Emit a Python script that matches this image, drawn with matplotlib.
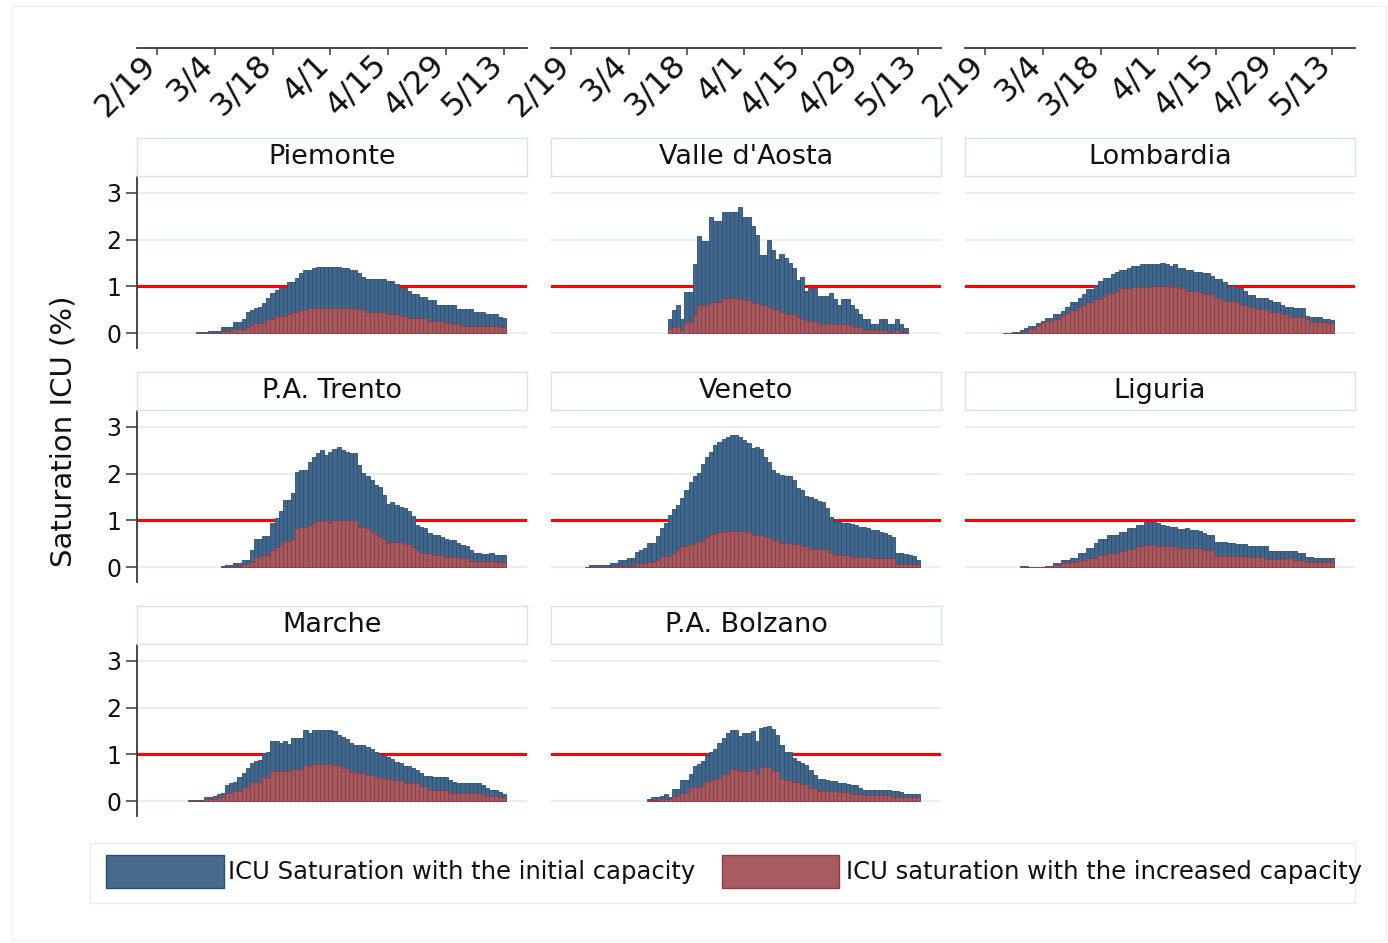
import numpy as np
import matplotlib
matplotlib.use('Agg')
import matplotlib.pyplot as plt
from matplotlib.patches import Rectangle

plt.rcParams['font.family'] = ['DejaVu Sans']

# days counted from 2/19/2020
tick_days = [0, 14, 28, 42, 56, 70, 84]
tick_labels = ['2/19', '3/4', '3/18', '4/1', '4/15', '4/29', '5/13']

regions = ['Piemonte', "Valle d'Aosta", 'Lombardia', 'P.A. Trento', 'Veneto',
           'Liguria', 'Marche', 'P.A. Bolzano']
start_day = [10, 24, 5, 16, 4, 9, 8, 19]

# ICU saturation with the initial capacity
piemonte_init = [0.02, 0.02, 0.02, 0.04, 0.04, 0.04, 0.13, 0.13, 0.13, 0.24,
                 0.24, 0.31, 0.45, 0.49, 0.54, 0.56, 0.64, 0.74, 0.85, 0.92,
                 0.96, 0.96, 1.10, 1.10, 1.17, 1.28, 1.35, 1.35, 1.39, 1.42,
                 1.42, 1.42, 1.42, 1.42, 1.42, 1.39, 1.39, 1.35, 1.35, 1.28,
                 1.21, 1.16, 1.16, 1.16, 1.16, 1.16, 1.11, 1.11, 1.04, 0.96,
                 0.96, 0.89, 0.83, 0.83, 0.78, 0.78, 0.71, 0.71, 0.61, 0.61,
                 0.59, 0.59, 0.59, 0.51, 0.51, 0.51, 0.51, 0.46, 0.46, 0.46,
                 0.40, 0.40, 0.40, 0.34, 0.32]
valle_init = [0.31, 0.49, 0.60, 0.31, 0.87, 0.87, 1.48, 2.08, 1.98, 1.98,
              2.49, 2.39, 2.39, 2.59, 2.59, 2.59, 2.59, 2.69, 2.49, 2.49,
              2.29, 2.10, 1.67, 1.67, 1.99, 1.78, 1.58, 1.69, 1.60, 1.49,
              1.39, 1.14, 1.19, 0.91, 0.96, 0.96, 0.80, 0.80, 0.80, 0.86,
              0.72, 0.60, 0.72, 0.72, 0.60, 0.51, 0.41, 0.31, 0.31, 0.19,
              0.19, 0.31, 0.31, 0.19, 0.19, 0.31, 0.19, 0.10]
lombardia_init = [0.01, 0.01, 0.03, 0.03, 0.06, 0.10, 0.15, 0.15, 0.21, 0.26,
                  0.33, 0.33, 0.41, 0.41, 0.47, 0.56, 0.66, 0.66, 0.76, 0.83,
                  0.94, 0.94, 1.01, 1.12, 1.17, 1.17, 1.26, 1.31, 1.36, 1.36,
                  1.40, 1.44, 1.44, 1.48, 1.48, 1.48, 1.48, 1.48, 1.51, 1.48,
                  1.44, 1.48, 1.40, 1.40, 1.36, 1.36, 1.31, 1.31, 1.28, 1.28,
                  1.23, 1.16, 1.16, 1.09, 1.01, 1.01, 0.96, 0.96, 0.89, 0.81,
                  0.81, 0.76, 0.76, 0.76, 0.71, 0.66, 0.66, 0.60, 0.56, 0.56,
                  0.54, 0.54, 0.54, 0.37, 0.35, 0.35, 0.35, 0.31, 0.31, 0.28]
trento_init = [0.02, 0.05, 0.05, 0.09, 0.09, 0.16, 0.16, 0.36, 0.60, 0.60,
               0.66, 0.66, 0.94, 1.06, 1.21, 1.44, 1.44, 1.58, 2.04, 2.08,
               2.08, 2.24, 2.36, 2.45, 2.51, 2.40, 2.47, 2.52, 2.56, 2.51,
               2.47, 2.44, 2.44, 2.19, 2.01, 1.94, 1.86, 1.76, 1.72, 1.54,
               1.36, 1.40, 1.33, 1.29, 1.26, 1.20, 1.09, 0.90, 0.86, 0.83,
               0.72, 0.69, 0.69, 0.64, 0.60, 0.58, 0.58, 0.52, 0.47, 0.44,
               0.36, 0.31, 0.31, 0.28, 0.28, 0.31, 0.26, 0.26, 0.26]
veneto_init = [0.01, 0.04, 0.04, 0.04, 0.04, 0.04, 0.08, 0.08, 0.15, 0.15,
               0.19, 0.19, 0.33, 0.36, 0.40, 0.52, 0.52, 0.66, 0.84, 0.95,
               1.11, 1.24, 1.33, 1.47, 1.65, 1.83, 1.94, 2.02, 2.21, 2.36,
               2.47, 2.61, 2.67, 2.74, 2.79, 2.83, 2.83, 2.79, 2.72, 2.66,
               2.54, 2.58, 2.52, 2.35, 2.24, 2.08, 2.02, 1.97, 1.94, 1.94,
               1.86, 1.69, 1.64, 1.51, 1.50, 1.45, 1.42, 1.40, 1.26, 1.08,
               0.99, 0.99, 0.95, 0.95, 0.92, 0.90, 0.86, 0.86, 0.83, 0.79,
               0.79, 0.76, 0.72, 0.69, 0.65, 0.29, 0.29, 0.27, 0.26, 0.24, 0.16]
liguria_init = [0.02, 0.02, 0.01, 0.01, 0.01, 0.01, 0.03, 0.03, 0.08, 0.08,
                0.15, 0.15, 0.20, 0.20, 0.31, 0.31, 0.40, 0.40, 0.51, 0.61,
                0.61, 0.69, 0.69, 0.69, 0.76, 0.76, 0.83, 0.83, 0.90, 0.90,
                0.96, 0.96, 0.96, 0.94, 0.90, 0.88, 0.85, 0.85, 0.81, 0.81,
                0.83, 0.79, 0.79, 0.77, 0.72, 0.69, 0.69, 0.54, 0.54, 0.54,
                0.52, 0.52, 0.49, 0.49, 0.49, 0.45, 0.44, 0.44, 0.44, 0.44,
                0.35, 0.35, 0.35, 0.35, 0.35, 0.35, 0.35, 0.31, 0.31, 0.22,
                0.22, 0.19, 0.19, 0.19, 0.19, 0.19]
marche_init = [0.02, 0.02, 0.02, 0.02, 0.08, 0.08, 0.11, 0.15, 0.18, 0.34,
               0.39, 0.41, 0.51, 0.61, 0.70, 0.81, 0.86, 0.88, 1.02, 1.06,
               1.29, 1.29, 1.25, 1.29, 1.22, 1.34, 1.34, 1.34, 1.52, 1.45,
               1.52, 1.52, 1.52, 1.52, 1.52, 1.49, 1.41, 1.38, 1.32, 1.25,
               1.20, 1.20, 1.20, 1.16, 1.11, 1.06, 1.01, 0.99, 0.94, 0.89,
               0.84, 0.81, 0.74, 0.74, 0.70, 0.66, 0.59, 0.54, 0.54, 0.51,
               0.51, 0.51, 0.51, 0.45, 0.41, 0.39, 0.39, 0.39, 0.39, 0.39,
               0.39, 0.34, 0.27, 0.24, 0.24, 0.20, 0.15]
bolzano_init = [0.04, 0.08, 0.08, 0.10, 0.15, 0.08, 0.26, 0.26, 0.46, 0.46,
                0.58, 0.76, 0.79, 0.85, 0.98, 1.06, 1.12, 1.24, 1.36, 1.46,
                1.53, 1.53, 1.39, 1.46, 1.46, 1.49, 1.28, 1.56, 1.58, 1.60,
                1.55, 1.42, 1.19, 1.06, 1.06, 0.92, 0.86, 0.81, 0.78, 0.67,
                0.56, 0.48, 0.48, 0.46, 0.42, 0.42, 0.39, 0.39, 0.36, 0.34,
                0.34, 0.29, 0.24, 0.24, 0.24, 0.24, 0.24, 0.24, 0.24, 0.21,
                0.21, 0.19, 0.15, 0.15, 0.15, 0.15]

# ICU saturation with the increased capacity
piemonte_incr = [0.00, 0.00, 0.01, 0.01, 0.01, 0.01, 0.04, 0.04, 0.04, 0.09,
                 0.09, 0.09, 0.12, 0.17, 0.21, 0.21, 0.21, 0.30, 0.30, 0.36,
                 0.36, 0.36, 0.40, 0.44, 0.44, 0.49, 0.49, 0.54, 0.54, 0.54,
                 0.54, 0.54, 0.54, 0.54, 0.54, 0.54, 0.54, 0.54, 0.51, 0.51,
                 0.51, 0.46, 0.46, 0.46, 0.46, 0.46, 0.40, 0.40, 0.40, 0.36,
                 0.36, 0.33, 0.33, 0.33, 0.33, 0.33, 0.26, 0.26, 0.26, 0.26,
                 0.21, 0.21, 0.19, 0.19, 0.16, 0.16, 0.16, 0.16, 0.16, 0.16,
                 0.16, 0.16, 0.16, 0.14, 0.14]
valle_incr = [0.08, 0.14, 0.16, 0.06, 0.24, 0.24, 0.39, 0.60, 0.60, 0.60,
              0.67, 0.67, 0.67, 0.74, 0.74, 0.74, 0.74, 0.76, 0.71, 0.71,
              0.64, 0.64, 0.60, 0.60, 0.56, 0.51, 0.51, 0.46, 0.40, 0.40,
              0.40, 0.35, 0.31, 0.26, 0.26, 0.26, 0.19, 0.19, 0.19, 0.22,
              0.19, 0.19, 0.19, 0.19, 0.16, 0.14, 0.14, 0.06, 0.06, 0.06,
              0.06, 0.07, 0.07, 0.03, 0.03, 0.06, 0.02, 0.02]
lombardia_incr = [0.00, 0.00, 0.00, 0.00, 0.00, 0.00, 0.09, 0.09, 0.16, 0.21,
                  0.26, 0.26, 0.31, 0.31, 0.36, 0.42, 0.49, 0.49, 0.56, 0.61,
                  0.67, 0.67, 0.73, 0.73, 0.79, 0.85, 0.85, 0.90, 0.96, 0.96,
                  0.96, 0.98, 0.98, 0.98, 0.98, 0.98, 1.01, 1.01, 1.01, 1.01,
                  0.98, 1.01, 0.96, 0.96, 0.90, 0.90, 0.90, 0.87, 0.83, 0.83,
                  0.83, 0.74, 0.74, 0.69, 0.69, 0.69, 0.66, 0.60, 0.60, 0.55,
                  0.55, 0.51, 0.51, 0.51, 0.46, 0.46, 0.46, 0.40, 0.40, 0.35,
                  0.35, 0.35, 0.35, 0.31, 0.24, 0.24, 0.24, 0.24, 0.21, 0.21]
trento_incr = [0.01, 0.01, 0.01, 0.03, 0.03, 0.06, 0.06, 0.11, 0.22, 0.22,
               0.25, 0.25, 0.36, 0.42, 0.47, 0.56, 0.56, 0.60, 0.83, 0.85,
               0.85, 0.90, 0.94, 0.99, 0.99, 1.01, 0.94, 1.01, 1.01, 1.01,
               1.01, 1.01, 1.01, 0.86, 0.86, 0.83, 0.74, 0.71, 0.65, 0.61,
               0.52, 0.53, 0.53, 0.53, 0.49, 0.49, 0.42, 0.36, 0.31, 0.31,
               0.31, 0.26, 0.26, 0.26, 0.22, 0.22, 0.22, 0.22, 0.19, 0.19,
               0.14, 0.14, 0.14, 0.14, 0.14, 0.14, 0.10, 0.10, 0.10]
veneto_incr = [0.00, 0.00, 0.00, 0.00, 0.00, 0.00, 0.00, 0.03, 0.03, 0.03,
               0.03, 0.03, 0.08, 0.08, 0.08, 0.11, 0.11, 0.15, 0.24, 0.24,
               0.24, 0.31, 0.36, 0.44, 0.44, 0.49, 0.49, 0.56, 0.56, 0.65,
               0.70, 0.70, 0.74, 0.74, 0.77, 0.77, 0.77, 0.77, 0.77, 0.74,
               0.69, 0.69, 0.69, 0.64, 0.64, 0.58, 0.58, 0.52, 0.52, 0.52,
               0.49, 0.49, 0.44, 0.44, 0.38, 0.38, 0.38, 0.38, 0.38, 0.31,
               0.26, 0.26, 0.26, 0.26, 0.22, 0.22, 0.22, 0.22, 0.22, 0.19,
               0.19, 0.19, 0.19, 0.19, 0.19, 0.06, 0.06, 0.06, 0.06, 0.06, 0.06]
liguria_incr = [0.00, 0.00, 0.01, 0.01, 0.01, 0.01, 0.02, 0.02, 0.04, 0.04,
                0.08, 0.08, 0.11, 0.11, 0.15, 0.15, 0.20, 0.20, 0.20, 0.26,
                0.26, 0.31, 0.31, 0.31, 0.35, 0.35, 0.39, 0.39, 0.44, 0.44,
                0.47, 0.47, 0.47, 0.44, 0.44, 0.44, 0.44, 0.44, 0.40, 0.40,
                0.40, 0.40, 0.40, 0.40, 0.36, 0.36, 0.36, 0.24, 0.24, 0.24,
                0.24, 0.24, 0.24, 0.24, 0.22, 0.22, 0.22, 0.22, 0.22, 0.17,
                0.17, 0.17, 0.17, 0.17, 0.20, 0.20, 0.15, 0.15, 0.15, 0.10,
                0.10, 0.10, 0.10, 0.10, 0.10, 0.10]
marche_incr = [0.00, 0.00, 0.00, 0.00, 0.05, 0.05, 0.05, 0.08, 0.08, 0.18,
               0.18, 0.22, 0.22, 0.31, 0.31, 0.41, 0.41, 0.41, 0.51, 0.51,
               0.65, 0.65, 0.65, 0.65, 0.65, 0.68, 0.68, 0.68, 0.77, 0.74,
               0.79, 0.79, 0.79, 0.79, 0.79, 0.77, 0.77, 0.70, 0.70, 0.63,
               0.63, 0.59, 0.59, 0.56, 0.56, 0.51, 0.49, 0.49, 0.49, 0.44,
               0.44, 0.44, 0.38, 0.38, 0.38, 0.38, 0.32, 0.32, 0.24, 0.24,
               0.24, 0.24, 0.24, 0.18, 0.18, 0.18, 0.18, 0.18, 0.18, 0.18,
               0.18, 0.16, 0.11, 0.11, 0.11, 0.08, 0.08]
bolzano_incr = [0.02, 0.02, 0.02, 0.05, 0.05, 0.05, 0.10, 0.10, 0.17, 0.17,
                0.28, 0.31, 0.31, 0.35, 0.42, 0.42, 0.47, 0.49, 0.58, 0.58,
                0.69, 0.69, 0.65, 0.64, 0.64, 0.69, 0.58, 0.72, 0.72, 0.72,
                0.65, 0.65, 0.49, 0.46, 0.46, 0.41, 0.41, 0.36, 0.36, 0.29,
                0.29, 0.22, 0.22, 0.22, 0.22, 0.22, 0.19, 0.19, 0.19, 0.15,
                0.15, 0.15, 0.12, 0.12, 0.12, 0.12, 0.12, 0.12, 0.12, 0.08,
                0.08, 0.08, 0.08, 0.08, 0.08, 0.08]

initial = [piemonte_init, valle_init, lombardia_init, trento_init,
           veneto_init, liguria_init, marche_init, bolzano_init]
increased = [piemonte_incr, valle_incr, lombardia_incr, trento_incr,
             veneto_incr, liguria_incr, marche_incr, bolzano_incr]

blue = '#42678c'
blue_edge = '#2a4f76'
red = '#a55a60'
red_edge = '#8e3c44'
grid_col = '#e8eff2'
strip_col = '#d6e2e9'
ink = '#3a3a3a'

W, H = 1388, 943
fig = plt.figure(figsize=(W / 100, H / 100), dpi=100)

def fbox(x, y, w, h):
    # pixel box (top-left origin) -> figure fraction
    return [x / W, 1 - (y + h) / H, w / W, h / H]

col_x = [137, 551, 965]
row_y = [177, 411, 645]
pw, ph = 390, 171
xlim = (-4.8, 89.6)
ylim = (-0.32, 3.34)

# faint outer frame
fig.patches.append(Rectangle((12 / W, 3 / H), 1 - 14 / W, 1 - 9 / H,
                             transform=fig.transFigure, fill=False,
                             edgecolor='#eef1f3', lw=1))

for i, name in enumerate(regions):
    r, c = divmod(i, 3)
    ax = fig.add_axes(fbox(col_x[c], row_y[r], pw, ph))
    days = np.arange(len(initial[i])) + start_day[i]
    ax.bar(days, initial[i], width=1, color=blue, edgecolor=blue_edge,
           linewidth=0.6, zorder=3)
    ax.bar(days, increased[i], width=1, color=red, edgecolor=red_edge,
           linewidth=0.6, zorder=4)
    ax.axhline(1, color='red', lw=2.2, zorder=2)
    ax.set_xlim(xlim)
    ax.set_ylim(ylim)
    ax.set_yticks([0, 1, 2, 3])
    ax.yaxis.grid(True, color=grid_col, lw=1.6, zorder=0)
    ax.set_axisbelow(True)
    ax.set_xticks([])
    for s in ['top', 'right', 'bottom']:
        ax.spines[s].set_visible(False)
    if c == 0:
        ax.spines['left'].set_color(ink)
        ax.spines['left'].set_linewidth(1.3)
        ax.tick_params(axis='y', direction='out', length=8, width=1.1,
                       pad=3, labelsize=17, color=ink, labelcolor='#111111')
    else:
        ax.spines['left'].set_visible(False)
        ax.tick_params(axis='y', length=0, labelleft=False)

    # title strip
    st = fig.add_axes(fbox(col_x[c], row_y[r] - 39, pw, 38))
    st.set_xticks([])
    st.set_yticks([])
    for s in st.spines.values():
        s.set_color(strip_col)
        s.set_linewidth(1)
    st.text(0.5, 0.5, name, ha='center', va='center', fontsize=19.5,
            color='#111111', transform=st.transAxes)

# date axis along the top
for c in range(3):
    axt = fig.add_axes(fbox(col_x[c], 48, pw, 0.01))
    axt.set_xlim(xlim)
    axt.set_yticks([])
    for s in ['top', 'left', 'right']:
        axt.spines[s].set_visible(False)
    axt.spines['bottom'].set_color(ink)
    axt.spines['bottom'].set_linewidth(1.3)
    axt.patch.set_visible(False)
    axt.set_xticks(tick_days)
    axt.set_xticklabels(tick_labels, rotation=45, ha='right', va='baseline',
                        rotation_mode='anchor', fontsize=23)
    axt.tick_params(axis='x', direction='out', length=5, width=1.1, pad=8,
                    color=ink, labelcolor='#111111')

fig.text(64 / W, 1 - 431 / H, 'Saturation ICU (%)', rotation=90,
         ha='center', va='center', fontsize=21, color='#111111')

# legend
lg = fig.add_axes(fbox(90, 843, 1265, 60))
lg.set_xlim(90, 1355)
lg.set_ylim(903, 843)
lg.set_xticks([])
lg.set_yticks([])
for s in lg.spines.values():
    s.set_color('#e6ecef')
lg.add_patch(Rectangle((106, 855), 118, 33, facecolor='#486b8b',
                       edgecolor=blue_edge, lw=1))
lg.add_patch(Rectangle((722, 855), 117, 33, facecolor='#a65c60',
                       edgecolor=red_edge, lw=1))
lg.text(228, 872, 'ICU Saturation with the initial capacity', ha='left',
        va='center', fontsize=17.5, color='#111111', clip_on=False)
lg.text(846, 872, 'ICU saturation with the increased capacity', ha='left',
        va='center', fontsize=17.5, color='#111111', clip_on=False)

fig.savefig('out.png', dpi=100, facecolor='white')
